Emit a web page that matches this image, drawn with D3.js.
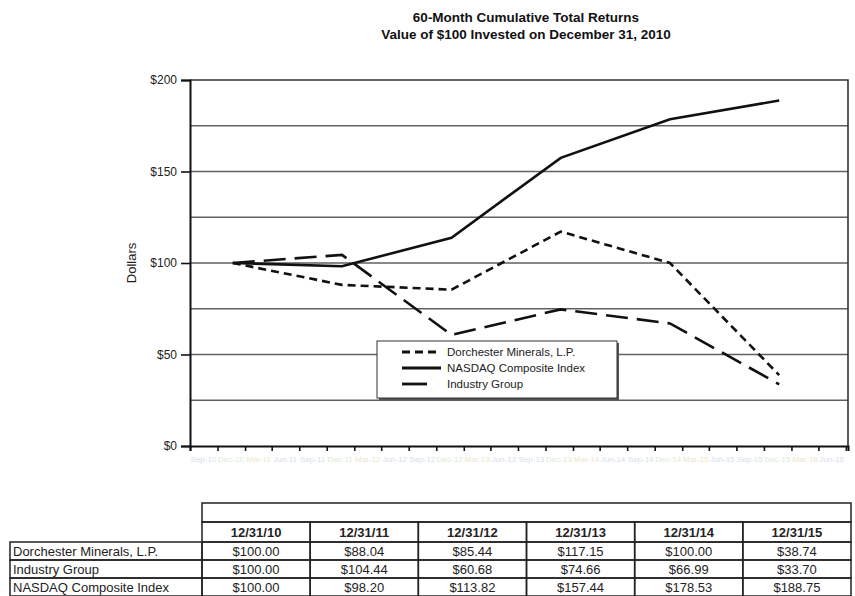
<!DOCTYPE html>
<html>
<head>
<meta charset="utf-8">
<script src="https://cdn.jsdelivr.net/npm/d3@7"></script>
<style>
  body { margin: 0; background: #fff; }
  svg { display: block; font-family: "Liberation Sans", Arial, sans-serif; }
</style>
</head>
<body>
<svg id="chart" width="855" height="596"></svg>
<script>
// values
var dates = ["12/31/10", "12/31/11", "12/31/12", "12/31/13", "12/31/14", "12/31/15"];
var dorchester = [100.00, 88.04, 85.44, 117.15, 100.00, 38.74];
var industry = [100.00, 104.44, 60.68, 74.66, 66.99, 33.70];
var nasdaq = [100.00, 98.20, 113.82, 157.44, 178.53, 188.75];
var legendNames = ["Dorchester Minerals, L.P.", "NASDAQ Composite Index", "Industry Group"];
var tableNames = ["Dorchester Minerals, L.P.", "Industry Group", "NASDAQ Composite Index"];
var yTicks = [0, 50, 100, 150, 200];
var gridLines = [25, 50, 75, 100, 125, 150, 175];
var titleLines = ["60-Month Cumulative Total Returns", "Value of $100 Invested on December 31, 2010"];

var svg = d3.select("#chart"),
    MARGINS = { top: 80, right: 4, bottom: 150, left: 190 },
    WIDTH = 855,
    HEIGHT = 596;

var parse = d3.timeParse("%m/%d/%y");
var xStart = new Date(2010, 7, 10), xEnd = new Date(2016, 7, 17);

var xScale = d3.scaleTime().domain([xStart, xEnd]).range([MARGINS.left, WIDTH - MARGINS.right - 3]);
var yScale = d3.scaleLinear().domain([0, 200]).range([HEIGHT - MARGINS.bottom, MARGINS.top]);

// title
svg.append("g").selectAll("text")
    .data(titleLines)
  .enter().append("text")
    .attr("x", 526)
    .attr("y", function(d, i) { return 22 + i * 17; })
    .attr("text-anchor", "middle")
    .style("font-size", "13.5px")
    .style("font-weight", "bold")
    .attr("fill", "#111")
    .text(function(d) { return d; });

// grid
svg.append("g").selectAll("line")
    .data(gridLines)
  .enter().append("line")
    .attr("x1", xScale.range()[0]).attr("x2", xScale.range()[1])
    .attr("y1", function(d) { return yScale(d); })
    .attr("y2", function(d) { return yScale(d); })
    .attr("stroke", "#606060").attr("stroke-width", 1.6);

// frame top + right
svg.append("path")
    .attr("d", "M" + xScale.range()[0] + "," + yScale(200) + "H" + xScale.range()[1] + "V" + yScale(0))
    .attr("fill", "none").attr("stroke", "#333").attr("stroke-width", 1.6);

// y axis
var yAxis = d3.axisLeft(yScale).tickValues(yTicks).tickSize(9).tickPadding(4)
    .tickFormat(function(d) { return "$" + d; });
var gy = svg.append("g")
    .attr("transform", "translate(" + MARGINS.left + ",0)")
    .call(yAxis);
gy.select(".domain").attr("stroke", "#111").attr("stroke-width", 2);
gy.selectAll(".tick line").attr("stroke", "#111").attr("stroke-width", 1.6);
gy.selectAll(".tick text").style("font-size", "12px").style("font-family", "Liberation Sans, Arial, sans-serif").attr("fill", "#222");

svg.append("text")
    .attr("transform", "translate(136," + yScale(100) + ") rotate(-90)")
    .attr("text-anchor", "middle")
    .style("font-size", "13px")
    .attr("fill", "#222")
    .text("Dollars");

// x axis, quarterly ticks; the faint labels sit between ticks
var xTicks = d3.range(25).map(function(i) { return d3.timeMonth.offset(xStart, 3 * i); });
var xAxis = d3.axisBottom(xScale).tickValues(xTicks).tickSize(5).tickFormat("");
var gx = svg.append("g")
    .attr("transform", "translate(0," + yScale(0) + ")")
    .call(xAxis);
gx.select(".domain").attr("stroke", "#111").attr("stroke-width", 2);
gx.selectAll(".tick line").attr("stroke", "#111").attr("stroke-width", 1.6);

var pale = ["#cfe3ea", "#dcebd2", "#ece6c9", "#d6dcef"];
var fmt = d3.timeFormat("%b-%y");
gx.selectAll(".qlab")
    .data(xTicks.slice(0, -1))
  .enter().append("text")
    .attr("class", "qlab")
    .attr("x", function(d) { return xScale(d3.timeDay.offset(d, 45)); })
    .attr("y", 16)
    .attr("text-anchor", "middle")
    .style("font-size", "8px")
    .attr("fill", function(d, i) { return pale[i % pale.length]; })
    .text(function(d) { return fmt(d3.timeMonth.offset(d, 1)); });

// series
var series = [
  { name: legendNames[0], values: dorchester, dash: "8,5" },
  { name: legendNames[1], values: nasdaq, dash: null },
  { name: legendNames[2], values: industry, dash: "22,9" }
];

var line = d3.line()
    .x(function(d, i) { return xScale(parse(dates[i])); })
    .y(function(d) { return yScale(d); });

svg.append("g").selectAll("path")
    .data(series)
  .enter().append("path")
    .attr("d", function(s) { return line(s.values); })
    .attr("fill", "none")
    .attr("stroke", "#111")
    .attr("stroke-width", 2.6)
    .attr("stroke-dasharray", function(s) { return s.dash; });

// legend
var legend = svg.append("g").attr("transform", "translate(377,341)");
legend.append("rect").attr("x", 2).attr("y", 2).attr("width", 240).attr("height", 57).attr("fill", "#555");
legend.append("rect").attr("width", 240).attr("height", 57).attr("fill", "#fff").attr("stroke", "#333").attr("stroke-width", 1);
var legendSample = [
  { x2: 62, dash: "8,5" },
  { x2: 64, dash: null },
  { x2: 50, dash: null }
];
var items = legend.selectAll(".item")
    .data(series)
  .enter().append("g")
    .attr("class", "item")
    .attr("transform", function(d, i) { return "translate(0," + (11 + i * 16) + ")"; });
items.append("line")
    .attr("x1", 25).attr("x2", function(d, i) { return legendSample[i].x2; })
    .attr("stroke", "#111").attr("stroke-width", 2.8)
    .attr("stroke-dasharray", function(d, i) { return legendSample[i].dash; });
items.append("text")
    .attr("x", 70).attr("dy", "0.35em")
    .style("font-size", "11.5px")
    .attr("fill", "#222")
    .text(function(d) { return d.name; });

// table
var colScale = d3.scaleBand().domain(dates).range([202, 851]);
var rowTop = 542, rowH = 18;
var rowValues = [dorchester, industry, nasdaq];
var table = svg.append("g").attr("fill", "none").attr("stroke", "#222").attr("stroke-width", 1.5);

table.append("rect").attr("x", 202).attr("y", 503).attr("width", 649).attr("height", 19);
table.selectAll(".head")
    .data(dates)
  .enter().append("rect")
    .attr("x", function(d) { return colScale(d); })
    .attr("y", 522).attr("width", colScale.bandwidth()).attr("height", rowTop - 522);
table.selectAll(".lab")
    .data(tableNames)
  .enter().append("rect")
    .attr("x", 10).attr("y", function(d, i) { return rowTop + i * rowH; })
    .attr("width", 192).attr("height", rowH);
rowValues.forEach(function(vals, r) {
  table.selectAll(".c" + r)
      .data(dates)
    .enter().append("rect")
      .attr("x", function(d) { return colScale(d); })
      .attr("y", rowTop + r * rowH)
      .attr("width", colScale.bandwidth()).attr("height", rowH);
});

var tt = svg.append("g").attr("fill", "#222").style("font-size", "13px");
tt.selectAll(".ht")
    .data(dates)
  .enter().append("text")
    .attr("x", function(d) { return colScale(d) + colScale.bandwidth() / 2; })
    .attr("y", 537)
    .attr("text-anchor", "middle")
    .style("font-weight", "bold")
    .text(function(d) { return d; });
tt.selectAll(".nt")
    .data(tableNames)
  .enter().append("text")
    .attr("x", 13)
    .attr("y", function(d, i) { return rowTop + i * rowH + 14; })
    .text(function(d) { return d; });
rowValues.forEach(function(vals, r) {
  tt.selectAll(".v" + r)
      .data(vals)
    .enter().append("text")
      .attr("x", function(d, i) { return colScale(dates[i]) + colScale.bandwidth() / 2; })
      .attr("y", rowTop + r * rowH + 14)
      .attr("text-anchor", "middle")
      .text(function(d) { return "$" + d.toFixed(2); });
});
</script>
</body>
</html>
